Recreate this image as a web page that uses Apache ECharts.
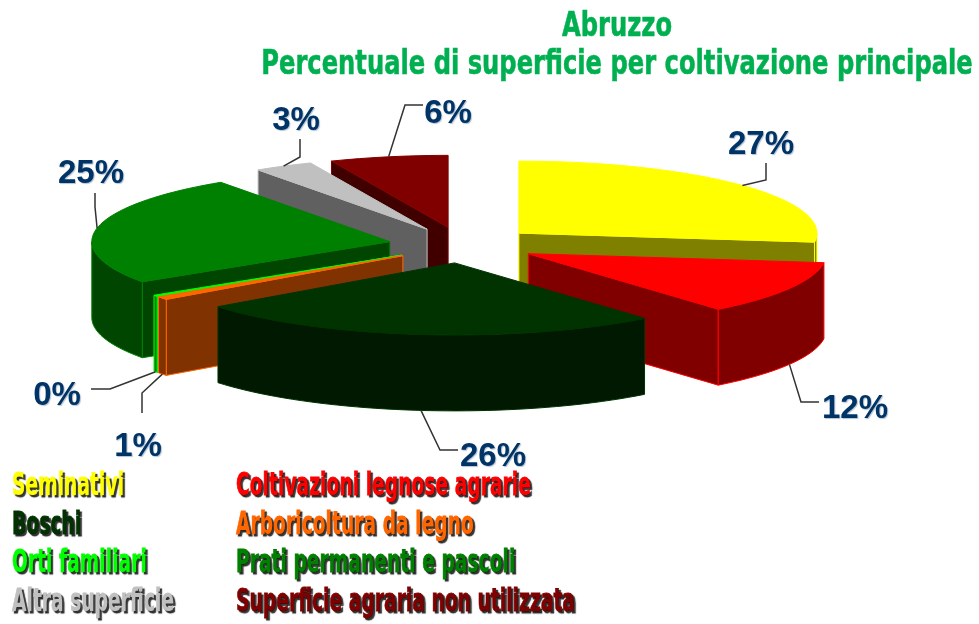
<!DOCTYPE html>
<html>
<head>
<meta charset="utf-8">
<title>Abruzzo</title>
<style>
    html, body { margin: 0; padding: 0; background: #fff; }
    #chart { width: 979px; height: 624px; }
</style>
<script src="https://cdn.jsdelivr.net/npm/echarts@6/dist/echarts.min.js"></script>
</head>
<body>
<div id="chart"></div>
<script>
const categories = [
    'Seminativi',
    'Coltivazioni legnose agrarie',
    'Boschi',
    'Arboricoltura da legno',
    'Orti familiari',
    'Prati permanenti e pascoli',
    'Altra superficie',
    'Superficie agraria non utilizzata',
];
const values = [27, 12, 25.6, 0.7, 0.3, 24.8, 3.2, 6.4];
const topColors = ['#FFFF00', '#FF0000', '#003300', '#FF6600', '#00FF00', '#008000', '#C0C0C0', '#800000'];
const wallColors = ['#808000', '#800000', '#001900', '#803300', '#008000', '#004600', '#606060', '#400000'];

const titleLines = ['Abruzzo', 'Percentuale di superficie per coltivazione principale'];
const legendLeft = [0, 2, 4, 6];
const legendRight = [1, 3, 5, 7];

// layout of the fake 3d pie
const PIE_CX = 463;
const PIE_CY = 245;
const PIE_RX = 298;
const PIE_RY = 72;
const PIE_DEPTH = 76;
const EXPLODE = 0.25;

// back to front, painter style
const drawOrder = [7, 6, 0, 5, 4, 3, 1, 2];

// elbow and text anchor of every leader, same order as categories
const leaderElbows = [
    [[766, 180], [766, 163]],
    [[801, 402], [819, 402]],
    [[440, 450], [458, 450]],
    [[142, 393], [142, 413]],
    [[110, 389], [91, 389]],
    [[95, 207], [95, 193]],
    [[300, 157], [300, 139]],
    [[405, 105], [423, 105]],
];
const labelAnchors = [
    [761, 145], [855, 409], [493, 457], [138, 447],
    [57, 396], [91, 174], [296, 121], [448, 114],
];

const sliceRanges = [];
values.reduce((acc, v) => {
    sliceRanges.push([acc * 3.6, (acc + v) * 3.6]);
    return acc + v;
}, 0);

function rimPoint(c, deg) {
    const a = deg * Math.PI / 180;
    return [c[0] + PIE_RX * Math.sin(a), c[1] - PIE_RY * Math.cos(a)];
}

function sliceCenter(idx) {
    const mid = (sliceRanges[idx][0] + sliceRanges[idx][1]) / 2;
    const a = mid * Math.PI / 180;
    return [
        PIE_CX + EXPLODE * PIE_RX * Math.sin(a),
        PIE_CY - EXPLODE * PIE_RY * Math.cos(a),
    ];
}

function arcPoints(c, from, to) {
    const pts = [];
    const steps = Math.max(1, Math.ceil((to - from) / 2));
    for (let i = 0; i <= steps; i++) pts.push(rimPoint(c, from + (to - from) * i / steps));
    return pts;
}

function drop(p) {
    return [p[0], p[1] + PIE_DEPTH];
}

function face(points, fill, stroke) {
    return {
        type: 'polygon',
        shape: { points },
        style: { fill, stroke, lineWidth: 1, lineJoin: 'round' },
    };
}

function renderSlice(params, api) {
    const idx = api.value(0);
    const [from, to] = sliceRanges[idx];
    const c = sliceCenter(idx);
    const top = topColors[idx];
    const wall = wallColors[idx];
    const children = [];

    // only the walls that look at the viewer
    if (Math.sin(from * Math.PI / 180) < -0.001) {
        const p = rimPoint(c, from);
        children.push(face([c, p, drop(p), drop(c)], wall, top));
    }
    if (Math.sin(to * Math.PI / 180) > 0.001) {
        const p = rimPoint(c, to);
        children.push(face([c, p, drop(p), drop(c)], wall, top));
    }
    const frontFrom = Math.max(from, 90);
    const frontTo = Math.min(to, 270);
    if (frontTo > frontFrom) {
        const arc = arcPoints(c, frontFrom, frontTo);
        children.push(face(arc.concat(arc.map(drop).reverse()), wall, top));
    }
    children.push(face([c].concat(arcPoints(c, from, to)), top, top));

    return { type: 'group', children };
}

function renderLeader(params, api) {
    const idx = api.value(0);
    const mid = (sliceRanges[idx][0] + sliceRanges[idx][1]) / 2;
    let start = rimPoint(sliceCenter(idx), mid);
    if (mid > 90 && mid < 270) start = drop(start);
    const anchor = labelAnchors[idx];
    return {
        type: 'group',
        children: [
            {
                type: 'polyline',
                shape: { points: [start].concat(leaderElbows[idx]) },
                style: { fill: 'none', stroke: '#333333', lineWidth: 1.5 },
            },
            {
                type: 'text',
                x: anchor[0],
                y: anchor[1],
                style: {
                    text: Math.round(values[idx]) + '%',
                    font: 'bold 33px "Liberation Sans", Arial, sans-serif',
                    fill: '#003366',
                    align: 'center',
                    verticalAlign: 'middle',
                    textShadowColor: 'rgba(0,51,102,0.3)',
                    textShadowBlur: 1,
                    textShadowOffsetX: 1,
                    textShadowOffsetY: 1,
                },
            },
        ],
    };
}

function legendText(idx, x, y) {
    return {
        type: 'text',
        x,
        y,
        scaleX: 0.585,
        style: {
            text: categories[idx],
            font: 'bold 32px "DejaVu Sans", sans-serif',
            fill: topColors[idx],
            stroke: topColors[idx],
            lineWidth: 0.8,
            verticalAlign: 'middle',
            textShadowColor: 'rgba(0,0,0,0.8)',
            textShadowBlur: 1,
            textShadowOffsetX: 2,
            textShadowOffsetY: 2,
        },
    };
}

function titleText(text, x, y) {
    return {
        type: 'text',
        x,
        y,
        scaleX: 0.712,
        style: {
            text,
            font: 'bold 34px "DejaVu Sans", sans-serif',
            fill: '#00B050',
            stroke: '#00B050',
            lineWidth: 0.6,
            align: 'center',
            verticalAlign: 'middle',
        },
    };
}

const chart = echarts.init(document.getElementById('chart'), null, { renderer: 'canvas' });

chart.setOption({
    backgroundColor: '#ffffff',
    animation: false,
    graphic: {
        elements: [
            titleText(titleLines[0], 617, 27),
            titleText(titleLines[1], 617, 65),
            ...legendLeft.map((idx, i) => legendText(idx, 12, 487 + i * 38.5)),
            ...legendRight.map((idx, i) => legendText(idx, 236, 487 + i * 38.5)),
        ],
    },
    series: [
        {
            type: 'custom',
            coordinateSystem: 'none',
            silent: true,
            z: 2,
            data: drawOrder.map(i => [i]),
            renderItem: renderSlice,
        },
        {
            type: 'custom',
            coordinateSystem: 'none',
            silent: true,
            z: 3,
            data: drawOrder.map(i => [i]),
            renderItem: renderLeader,
        },
    ],
});

window.addEventListener('resize', () => chart.resize());
</script>
</body>
</html>
